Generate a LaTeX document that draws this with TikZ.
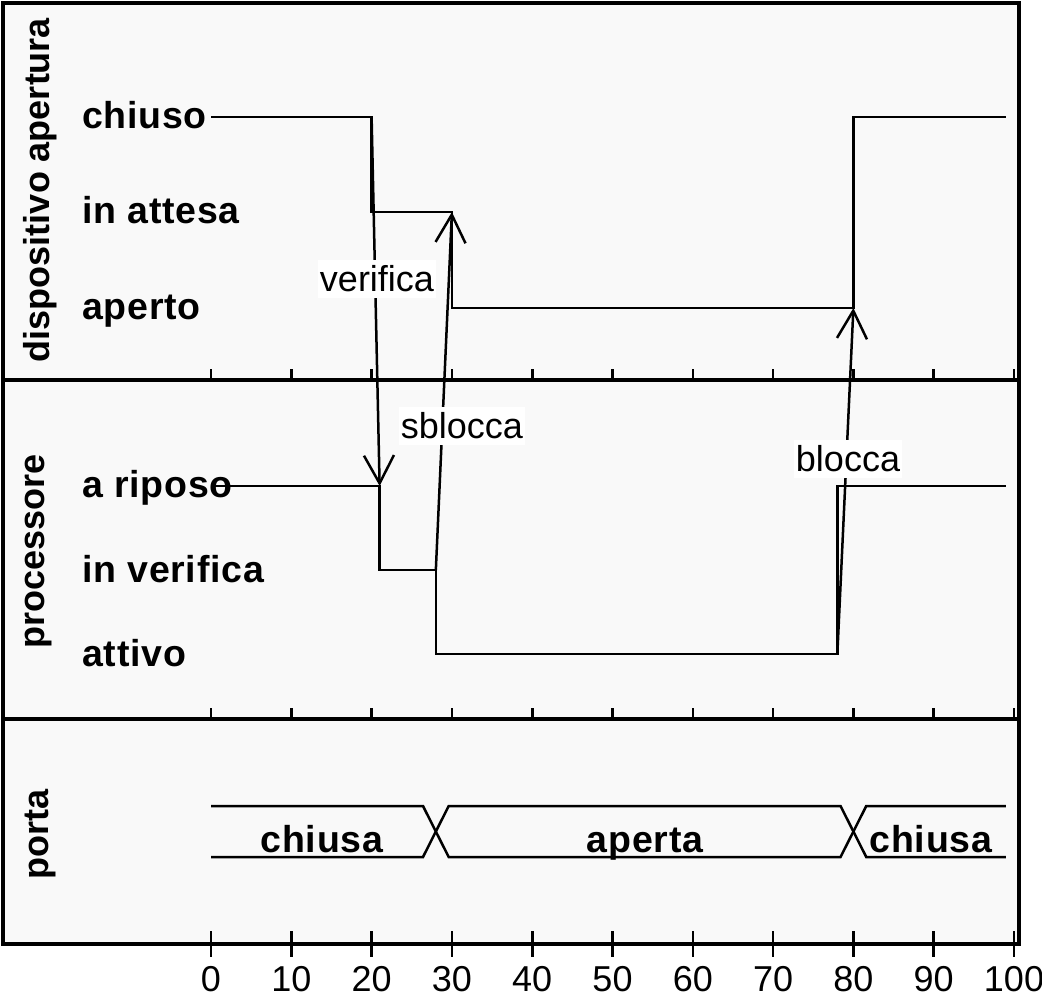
\documentclass[tikz,border=0pt]{standalone}
\usepackage{fontspec}
\setmainfont{Liberation Sans}
\newfontfamily\statefont{Liberation Sans}[LetterSpace=2]
\usetikzlibrary{arrows.meta}
\definecolor{panelgray}{RGB}{249,249,249}
\begin{document}
\begin{tikzpicture}[x=1pt,y=-1pt,
  sig/.style={line width=2.5pt, line join=miter},
  frameline/.style={line width=3.2pt},
  tickmark/.style={line width=2.6pt},
  state/.style={font=\statefont\bfseries\fontsize{37.5}{40}\selectfont, anchor=base west, inner sep=0pt},
  buslabel/.style={font=\statefont\bfseries\fontsize{37.5}{40}\selectfont, anchor=base, inner sep=0pt},
  lane/.style={font=\bfseries\fontsize{36}{40}\selectfont, rotate=90, inner sep=0pt},
  msg/.style={line width=2.5pt, -{Straight Barb[length=28pt,width=30pt,line width=2.5pt]}},
  msglabel/.style={fill=white, font=\fontsize{36}{40}\selectfont, inner xsep=2pt, inner ysep=6pt},
  axisnum/.style={font=\fontsize{36}{40}\selectfont, inner sep=0pt}]
\useasboundingbox (0,0) rectangle (1042,997);

% frame with three lanes
\fill[panelgray] (3,3) rectangle (1019,944);
\draw[frameline] (3,3) rectangle (1019,944);
\draw[frameline] (3,380) -- (1019,380);
\draw[frameline] (3,719) -- (1019,719);

% lane titles
\node[lane] (laneD) at (40,190) {dispositivo apertura};
\node[lane] (laneP) at (39,551) {processore};
\node[lane] (laneR) at (40,834) {porta};

% state names
\node[state] (sChiuso)  at (82,128) {chiuso};
\node[state] (sAttesa)  at (82,223) {in attesa};
\node[state] (sAperto)  at (82,319) {aperto};
\node[state] (sRiposo)  at (82,497) {a riposo};
\node[state] (sVerif)   at (82,582) {in verifica};
\node[state] (sAttivo)  at (82,666) {attivo};

% time axis: one unit of time = 8.03 px
\begin{scope}[xshift=211pt, x=8.03pt]
  \foreach \t in {0,10,...,100} {
    \draw[tickmark] (\t,369) -- (\t,380);
    \draw[tickmark] (\t,708) -- (\t,719);
    \draw[tickmark] (\t,931) -- (\t,957);
    \node[axisnum] (num\t) at (\t,979) {\t};
  }

  % waveform: dispositivo apertura
  \draw[sig] (0,117) -- (20,117) -- (20,212) -- (30,212) -- (30,308)
             -- (80,308) -- (80,117) -- (99,117);
  % waveform: processore
  \draw[sig] (0,486) -- (21,486) -- (21,570) -- (28,570) -- (28,654)
             -- (78,654) -- (78,486) -- (99,486);
  % bus: porta
  \draw[sig] (0,806) -- (26.4,806) -- (29.6,857) -- (78.4,857) -- (81.6,806) -- (99,806);
  \draw[sig] (0,857) -- (26.4,857) -- (29.6,806) -- (78.4,806) -- (81.6,857) -- (99,857);

  % message end points
  \coordinate (vFrom) at (20,117);
  \coordinate (vTo)   at (21,486);
  \coordinate (sFrom) at (28,570);
  \coordinate (sTo)   at (30,212);
  \coordinate (bFrom) at (78,654);
  \coordinate (bTo)   at (80,308);
\end{scope}

% messages
\draw[msg] (vFrom) -- (vTo);
\draw[msg] (sFrom) -- (sTo);
\draw[msg] (bFrom) -- (bTo);
\node[msglabel] (lVerifica) at (377,279) {verifica};
\node[msglabel] (lSblocca)  at (462,426) {sblocca};
\node[msglabel] (lBlocca)   at (848,459) {blocca};

% bus values
\node[buslabel] (pChiusa1) at (322,852) {chiusa};
\node[buslabel] (pAperta)  at (645,852) {aperta};
\node[buslabel] (pChiusa2) at (931,852) {chiusa};
\end{tikzpicture}
\end{document}
